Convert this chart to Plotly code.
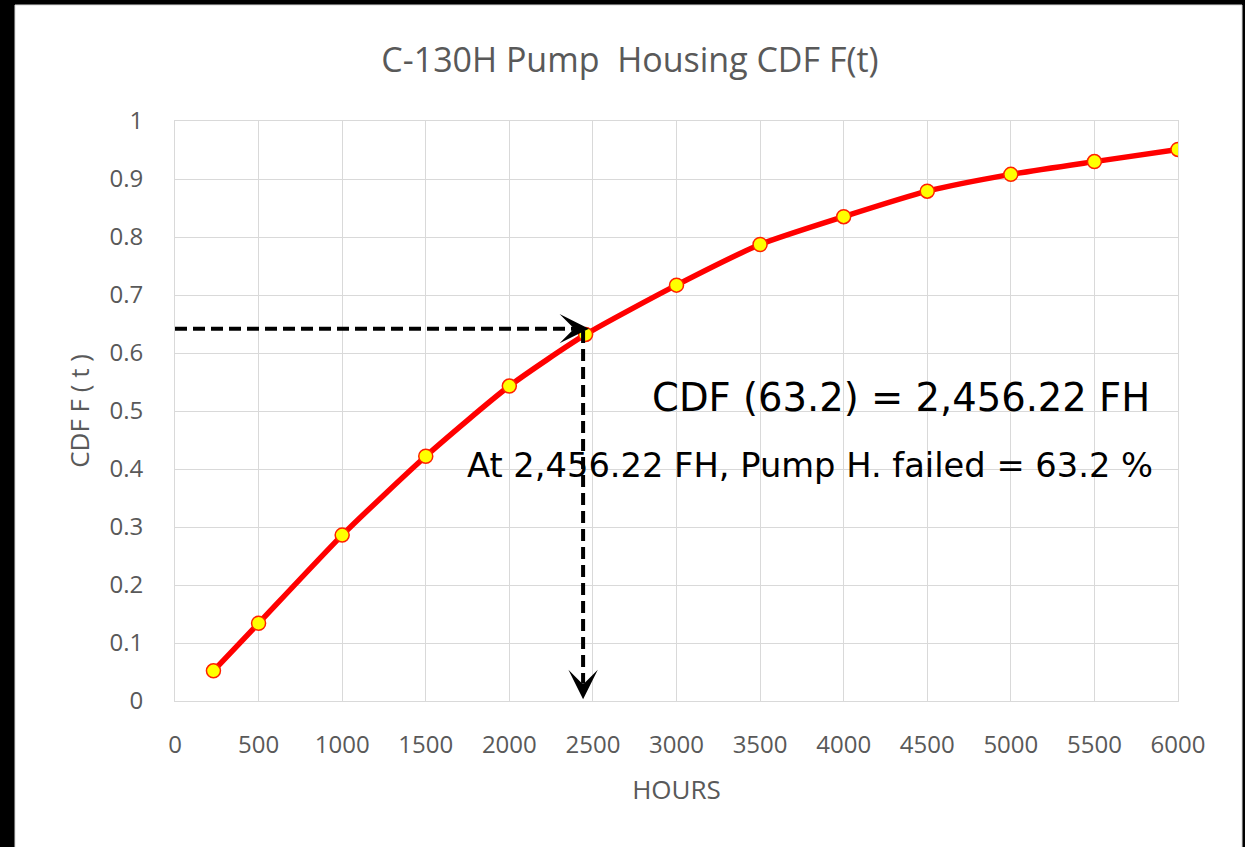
import plotly.graph_objects as go

# ---- data ----
hours = [230, 500, 1000, 1500, 2000, 2456.22, 3000, 3500, 4000, 4500, 5000, 5500, 6000]
cdf = [0.052, 0.134, 0.286, 0.422, 0.543, 0.632, 0.717, 0.787, 0.835, 0.879, 0.908, 0.930, 0.951]
x_ticks = list(range(0, 6001, 500))
y_ticks = [0, 0.1, 0.2, 0.3, 0.4, 0.5, 0.6, 0.7, 0.8, 0.9, 1]
y_tick_labels = ["0", "0.1", "0.2", "0.3", "0.4", "0.5", "0.6", "0.7", "0.8", "0.9", "1"]

title_text = "C-130H Pump  Housing CDF F(t)"
x_title = "HOURS"
y_title = "CDF F ( t )"
note_big = "CDF (63.2) = 2,456.22 FH"
note_small = "At 2,456.22 FH, Pump H. failed = 63.2 %"
t_eta = 2456.22     # characteristic life marked by the arrows
f_eta = 0.642       # level of the horizontal arrow

W, H = 1245, 847
L, R, T, B = 175, 67, 121, 146
pw, ph = W - L - R, H - T - B


def px(xp):
    return (xp - L) / pw


def py(yp):
    return (H - B - yp) / ph


fig = go.Figure()

fig.add_trace(go.Scatter(
    x=hours, y=cdf, mode="lines+markers",
    line=dict(color="#ff0000", width=5.5, shape="spline", smoothing=0.6),
    marker=dict(size=14, color="#ffff00", line=dict(color="#ff2000", width=1.5)),
    showlegend=False, hoverinfo="x+y",
))

x_v = t_eta - 15   # x of the vertical guide

# dashed guide lines
fig.add_trace(go.Scatter(
    x=[0, x_v], y=[f_eta, f_eta], mode="lines",
    line=dict(color="black", width=4, dash="12px,6px"),
    showlegend=False, hoverinfo="skip",
))
fig.add_trace(go.Scatter(
    x=[x_v, x_v], y=[f_eta - 0.004, 0.03], mode="lines",
    line=dict(color="black", width=4, dash="12px,6px"),
    showlegend=False, hoverinfo="skip",
))

# arrowheads
fig.add_annotation(x=t_eta + 20, y=f_eta, ax=-16, ay=0, xref="x", yref="y",
                   showarrow=True, arrowhead=3, arrowsize=1.4, arrowwidth=3.5,
                   arrowcolor="black", text="", standoff=0)
fig.add_annotation(x=x_v, y=0.003, ax=0, ay=-16, xref="x", yref="y",
                   showarrow=True, arrowhead=3, arrowsize=1.4, arrowwidth=3.5,
                   arrowcolor="black", text="", standoff=0)

# text notes
fig.add_annotation(x=px(1152), y=py(397), xref="paper", yref="paper",
                   xanchor="right", yanchor="middle", showarrow=False,
                   text=note_big, font=dict(family="DejaVu Sans", size=38.5, color="black"))
fig.add_annotation(x=px(1155), y=py(465), xref="paper", yref="paper",
                   xanchor="right", yanchor="middle", showarrow=False,
                   text=note_small, font=dict(family="DejaVu Sans", size=33.7, color="black"))

# white chart area inside black frame
fig.add_shape(type="rect", xref="paper", yref="paper",
              x0=px(15), x1=px(1242), y0=py(5), y1=py(H + 5),
              fillcolor="white", line=dict(color="#d9d9d9", width=1), layer="below")

axis_font = dict(family="Open Sans", size=24, color="#595959")

fig.update_layout(
    width=W, height=H,
    margin=dict(l=L, r=R, t=T, b=B, pad=0),
    paper_bgcolor="black", plot_bgcolor="white",
    title=dict(text=title_text, x=630 / W, xanchor="center", y=1 - 60 / H, yanchor="middle",
               xref="container", yref="container",
               font=dict(family="Open Sans", size=34, color="#595959")),
    xaxis=dict(range=[0, 6000], tickvals=x_ticks, ticktext=[str(v) for v in x_ticks],
               showgrid=True, gridcolor="#d9d9d9", gridwidth=1,
               showline=True, linecolor="#d9d9d9", linewidth=1, mirror=True,
               ticks="", ticklabelstandoff=22, tickfont=axis_font, zeroline=False,
               title=dict(text=x_title, font=dict(family="Open Sans", size=26, color="#595959"),
                          standoff=22)),
    yaxis=dict(range=[0, 1], tickvals=y_ticks, ticktext=y_tick_labels,
               showgrid=True, gridcolor="#d9d9d9", gridwidth=1,
               showline=True, linecolor="#d9d9d9", linewidth=1, mirror=True,
               ticks="", ticklabelstandoff=26, tickfont=axis_font, zeroline=False,
               title=dict(text=y_title, font=dict(family="Open Sans", size=26, color="#595959"),
                          standoff=12)),
)

fig.write_html("out.html")
